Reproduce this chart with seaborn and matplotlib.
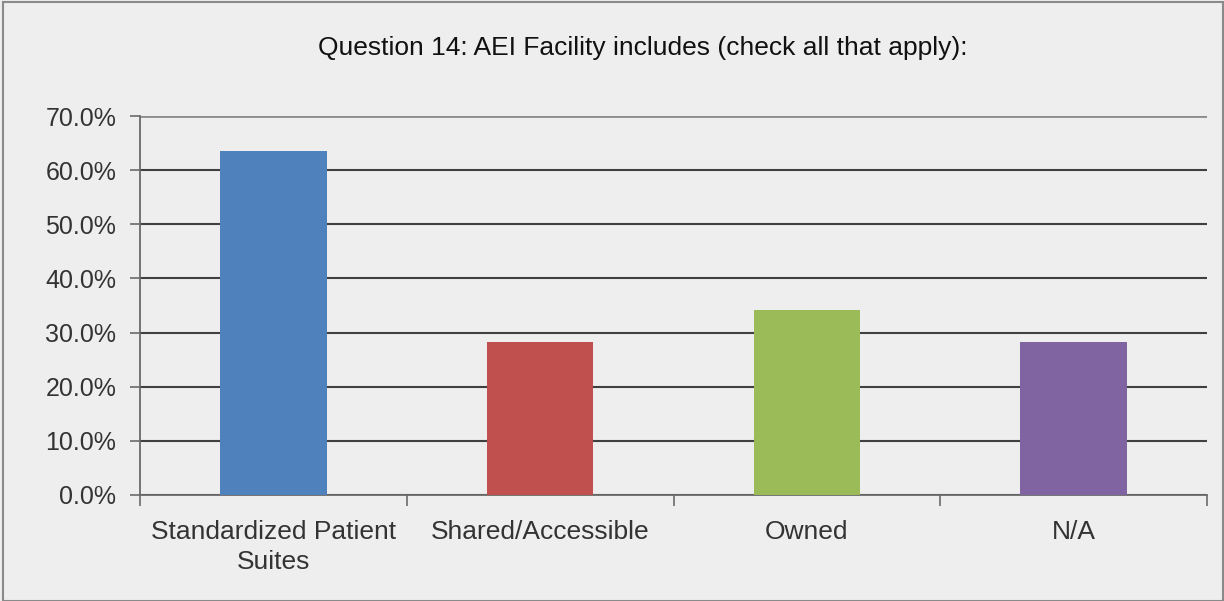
import numpy as np
import pandas as pd
import seaborn as sns
import matplotlib.pyplot as plt
from matplotlib.ticker import PercentFormatter, FixedLocator
from matplotlib.patches import Rectangle

categories = ["Standardized Patient\nSuites", "Shared/Accessible", "Owned", "N/A"]
shares = [63.5, 28.2, 34.1, 28.2]
bar_colors = ["#4F81BD", "#C0504D", "#9BBB59", "#8064A2"]
title = "Question 14: AEI Facility includes (check all that apply):"

df = pd.DataFrame({"category": categories, "share": shares})

sns.set_theme(style="white")
plt.rcParams["font.family"] = ["Liberation Sans", "DejaVu Sans"]

bg = "#EEEEEE"
fig = plt.figure(figsize=(12.24, 6.01), dpi=100, facecolor=bg)
ax = fig.add_axes([140 / 1224, 1 - 495 / 601, (1207 - 140) / 1224, (495 - 116) / 601])
ax.set_facecolor(bg)

sns.barplot(data=df, x="category", y="share", hue="category", palette=bar_colors,
            width=0.4, saturation=1, legend=False, linewidth=0, ax=ax, zorder=3)

ax.set_xlim(-0.5, len(categories) - 0.5)
ax.set_ylim(0, 70)
ax.set_yticks(np.arange(0, 71, 10))
ax.yaxis.set_major_formatter(PercentFormatter(decimals=1))
ax.yaxis.grid(True, color="#404040", linewidth=1.5, zorder=0)
gl = ax.get_ygridlines()
gl[-1].set_color("#8c8c8c")
gl[-1].set_linewidth(2)
ax.set_xlabel("")
ax.set_ylabel("")

for s in ["top", "right"]:
    ax.spines[s].set_visible(False)
ax.spines["left"].set_color("#6a6a6a")
ax.spines["left"].set_linewidth(1.3)
ax.spines["bottom"].set_color("#6a6a6a")
ax.spines["bottom"].set_linewidth(1.3)

ax.tick_params(axis="y", length=7, width=1.2, color="#6a6a6a", labelsize=18,
               labelcolor="#333333", pad=10, left=True)
ax.tick_params(axis="x", which="major", length=0, labelsize=19, labelcolor="#333333", pad=18)
for lab in ax.get_xticklabels():
    lab.set_linespacing(1.3)
ax.xaxis.set_minor_locator(FixedLocator(np.arange(-0.5, len(categories), 1)))
ax.tick_params(axis="x", which="minor", length=8, width=1.2, color="#6a6a6a", bottom=True)

fig.text(643 / 1224, 1 - 48 / 601, title, ha="center", va="center", fontsize=19, color="#111111")

fig.patches.append(Rectangle((3 / 1224, 0), 1 - 4 / 1224, 1 - 2 / 601, transform=fig.transFigure,
                             fill=False, edgecolor="#8a8a8a", linewidth=1.5))

fig.savefig("out.png", dpi=100, facecolor=bg)
